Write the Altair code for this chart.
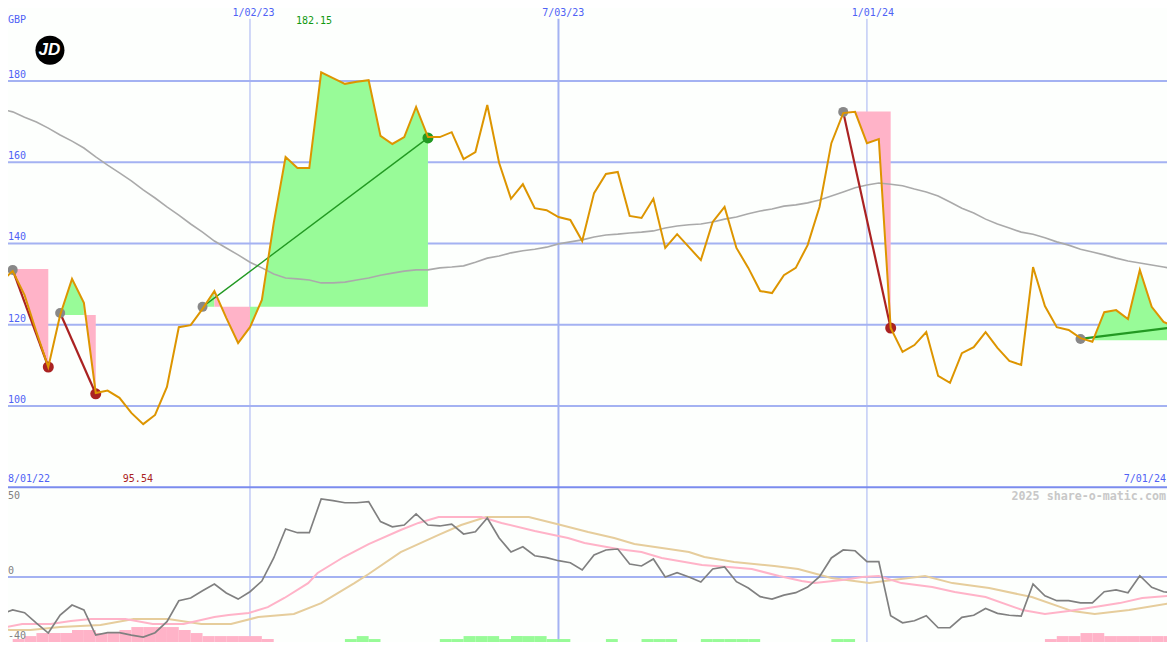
import altair as alt
import pandas as pd

# Weekly closes, week 0 = 8 Aug 2022
price = [130.5,133.2,127.3,118.2,109.6,122.4,131.3,125.4,103.2,103.8,102.0,98.3,95.54,97.8,104.7,119.4,119.9,123.9,128.3,121.7,
         115.5,119.4,126.1,145.0,161.3,158.6,158.6,182.15,180.7,179.3,179.8,180.2,166.5,164.5,166.2,173.6,166.2,166.2,167.4,160.8,
         162.5,174.1,159.8,151.0,154.6,148.7,148.2,146.5,145.8,140.6,152.4,157.1,157.6,146.8,146.3,151.0,138.9,142.3,139.1,135.9,
         145.3,149.0,138.9,134.0,128.3,127.8,132.2,134.0,139.6,149.0,164.7,172.1,172.4,164.7,165.7,119.2,113.3,115.0,118.2,107.4,
         105.7,113.0,114.5,118.2,114.3,111.1,110.1,134.2,124.6,119.4,118.7,116.7,115.8,123.1,123.6,121.4,133.5,124.4,120.7,119.4]
long_avg = [173.1,172.4,171.1,169.9,168.4,166.7,165.2,163.5,161.3,159.3,157.4,155.4,153.2,151.2,149.0,147.0,144.8,142.8,140.6,138.9,
            137.2,135.4,134.0,132.5,131.5,131.3,131.0,130.3,130.3,130.5,131.0,131.5,132.2,132.7,133.2,133.5,133.5,134.0,134.2,134.5,
            135.4,136.4,136.9,137.7,138.2,138.6,139.1,139.9,140.4,140.9,141.6,142.1,142.3,142.6,142.8,143.1,143.8,144.3,144.6,144.8,
            145.3,146.0,146.5,147.3,148.0,148.5,149.2,149.5,150.0,150.7,151.7,152.7,153.7,154.4,154.9,154.6,154.2,153.4,152.7,151.7,
            150.2,148.7,147.5,146.0,144.8,143.8,142.8,142.3,141.4,140.4,139.6,138.6,137.9,137.2,136.4,135.7,135.2,134.7,134.2,133.7]
momentum = [-23.1,-20.6,-22.3,-28.8,-35.0,-23.8,-17.5,-20.6,-36.3,-34.8,-34.8,-36.3,-37.5,-34.8,-27.9,-14.8,-13.1,-8.6,-4.4,-10.0,
            -13.8,-9.2,-2.5,11.9,30.0,27.7,27.7,48.8,47.7,46.4,46.4,47.1,34.6,31.4,32.5,39.4,32.5,31.9,33.1,26.9,
            28.3,36.9,24.4,15.6,18.9,13.3,12.1,10.2,8.9,4.4,13.8,16.9,17.5,8.1,6.9,11.3,0.0,2.7,0.0,-3.1,
            5.0,6.3,-2.9,-6.9,-12.3,-13.8,-11.3,-9.8,-6.3,0.2,11.9,16.9,16.4,9.6,9.6,-24.2,-28.6,-27.3,-24.2,-31.7,
            -31.7,-25.2,-23.9,-19.6,-22.7,-23.9,-24.4,-4.4,-11.7,-14.8,-14.8,-16.1,-16.1,-9.2,-8.1,-9.8,0.8,-6.4,-9.2,-9.8]

signal_weeks = [0,1.8,4.2,5.9,7.6,10.5,12.8,15.4,18,19.2,20.9,22.5,23.9,25.9,26.7,28.9,31,33.7,35.2,36.9,40.5,42.2,45,47.8,49.2,52,54,55.7,
                59.1,61.3,63.3,65.6,67.5,68.6,70.9,72.6,74,75.9,78.5,80.4,83,86.1,88,90,92.2,94.3,96.2,99.2]
signal = [-31.9,-29.4,-29.4,-27.5,-26.3,-26.3,-29.4,-29.4,-25,-23.8,-22.5,-18.8,-13.1,-3.8,2.5,12.5,20.6,29.4,33.8,37.5,37.5,33.8,28.8,24.4,21.3,17.5,15.6,11.9,
          7.5,6.3,5,0.6,-2.5,-3.8,-1.9,0,0.6,-3.8,-6.3,-9.4,-12.5,-20.6,-23.1,-21.3,-18.8,-16.3,-13.1,-11.3]
slow_weeks = [0,0.8,2.5,5,8.4,11.2,14.1,16.9,19.4,21.7,24.7,27,29.8,31,33.7,36.9,38.8,40.9,44.5,47.2,49.5,51.7,53.4,56.3,58,59.3,61.8,65.2,67.2,70,
              73.2,74.5,77.9,80.2,83.3,86.9,90.3,92.2,95.1,99.2]
slow = [-32.5,-33.1,-33.1,-31.3,-30,-26.3,-26.3,-29.4,-29.4,-25,-23.1,-16.3,-3.8,1.9,15.6,26.3,32.5,37.5,37.5,32.5,28.1,24.4,20.6,17.5,15.6,12.5,9.4,6.9,5,-0.6,
        -3.8,-2.5,0.6,-3.8,-6.9,-12.5,-21.3,-23.1,-20.6,-15.6]

pink_bar_weeks = [1,2,3,4,5,6,7,8,9,10,11,12,13,14,15,16,17,18,19,20,21,22,88,89,90,91,92,93,94,95,96,97,98,99]
pink_bar_tops = [-38.75,-36.9,-35,-35,-35,-33.1,-33.1,-35,-35,-33.1,-31.25,-31.25,-31.25,-31.25,-33.1,-35,-36.9,-36.9,-36.9,-36.9,-36.9,-38.75,
                 -38.75,-36.9,-36.9,-35,-35,-36.9,-36.9,-36.9,-36.9,-36.9,-36.9,-36.9]
green_bar_weeks = [29,30,31,37,38,39,40,41,42,43,44,45,46,47,51,54,55,56,59,60,61,62,63,70,71]
green_bar_tops = [-38.75,-36.9,-38.75,-38.75,-38.75,-36.9,-36.9,-36.9,-38.75,-36.9,-36.9,-36.9,-38.75,-38.75,-38.75,-38.75,-38.75,-38.75,
                  -38.75,-38.75,-38.75,-38.75,-38.75,-38.75,-38.75]

trade_start = [1,5,17,71,91]
trade_end = [4,8,36,75,99]
trade_base = [133.7,122.4,124.4,172.5,116.2]
trade_entry = [133.5,122.9,124.4,172.4,116.5]
trade_exit = [109.6,103.0,166.0,119.2,119.4]
trade_colour = ["#aa2222","#aa2222","#229922","#aa2222","#229922"]
trade_width = [2.2,2.2,1.4,2.2,2.2]
trade_closed = [True,True,True,True,False]

price_grid = [100,120,140,160,180]
date_weeks = [21,47,73]
date_widths = [1,2,1]
date_text = ["1/02/23","7/03/23","1/01/24"]
date_text_weeks = [21.3,47.4,73.5]

X_DOMAIN = [0.604, 98.29]
UP_DOMAIN = [80.06, 197.97]
LOW_DOMAIN = [-40.6, 56.25]
BLUE = "#4f62f5"
GRID = "#a4b2f2"
MONO = "DejaVu Sans Mono"
PINK = "#ffb3c8"
GREEN = "#98fb98"
W, H1, H = 1159, 479, 634

xq = alt.X("w:Q", scale=alt.Scale(domain=X_DOMAIN, nice=False, zero=False), axis=None)
yu = alt.Y("v:Q", scale=alt.Scale(domain=UP_DOMAIN, range=[H1, 0], nice=False, zero=False), axis=None)
yl = alt.Y("v:Q", scale=alt.Scale(domain=LOW_DOMAIN, range=[H, H1], nice=False, zero=False), axis=None)
colour = alt.Color("c:N", scale=None)

def series(ws, vs):
    return pd.DataFrame({"w": ws, "v": vs})

def text_layer(rows, y, align, **kw):
    opts = dict(font=MONO, fontSize=10, align=align, baseline="middle")
    opts.update(kw)
    frame = pd.DataFrame(rows, columns=["w", "v", "t", "c"])
    return alt.Chart(frame).mark_text(**opts).encode(x=xq, y=y, text="t:N", color=colour)

weeks = list(range(len(price)))

# ---------- upper panel ----------
grid_u = alt.Chart(series([0]*5, price_grid)).mark_rule(color=GRID, strokeWidth=2).encode(y=yu)
date_rules_u = alt.Chart(pd.DataFrame({"w": date_weeks, "s": date_widths, "v": [195.3]*3, "v0": [UP_DOMAIN[0]]*3})).mark_rule(color=GRID).encode(
    x=xq, y=yu, y2="v0:Q", strokeWidth=alt.StrokeWidth("s:Q", scale=None))

rows = []
group = 0
for k in range(len(trade_start)):
    previous = None
    for w in range(trade_start[k], trade_end[k]):
        col = GREEN if price[w + 1] >= trade_base[k] else PINK
        if col != previous:
            group += 1
            rows.append({"w": w, "v": price[w], "v0": trade_base[k], "seg": f"s{group}", "c": col})
        rows.append({"w": w + 1, "v": price[w + 1], "v0": trade_base[k], "seg": f"s{group}", "c": col})
        previous = col
shade = alt.Chart(pd.DataFrame(rows)).mark_area(clip=True, opacity=1).encode(
    x=xq, y=yu, y2="v0:Q", color=colour, detail="seg:N")

ma_line = alt.Chart(series(weeks, long_avg)).mark_line(color="#aaaaaa", strokeWidth=1.6, clip=True).encode(x=xq, y=yu)

seg_rows = []
for k in range(len(trade_start)):
    seg_rows.append({"w": trade_start[k], "v": trade_entry[k], "k": k, "c": trade_colour[k], "s": trade_width[k]})
    seg_rows.append({"w": trade_end[k], "v": trade_exit[k], "k": k, "c": trade_colour[k], "s": trade_width[k]})
trade_lines = alt.Chart(pd.DataFrame(seg_rows)).mark_line(clip=True).encode(
    x=xq, y=yu, color=colour, detail="k:N", strokeWidth=alt.StrokeWidth("s:Q", scale=None))

entry = alt.Chart(series(trade_start, trade_entry)).mark_point(filled=True, opacity=1, color="#888888", size=100).encode(x=xq, y=yu)
exits = pd.DataFrame({"w": trade_end, "v": trade_exit, "c": trade_colour, "o": trade_closed})
exits = exits[exits["o"]]
exit_dots = alt.Chart(exits).mark_point(filled=True, opacity=1, size=121).encode(x=xq, y=yu, color=colour)

price_line = alt.Chart(series(weeks, price)).mark_line(color="#dd9500", strokeWidth=2, clip=True).encode(x=xq, y=yu)

logo = alt.Chart(series([4.14], [187.6])).mark_point(filled=True, opacity=1, color="#000000", size=841).encode(x=xq, y=yu)
logo_text = text_layer([[4.1, 187.6, "JD", "#ffffff"]], yu, "center", font="Liberation Sans", fontSize=17,
                       fontWeight="bold", fontStyle="italic")

upper = [
    grid_u, date_rules_u, shade, ma_line, trade_lines, entry, exit_dots, price_line, logo, logo_text,
    text_layer([[0.604, v, str(v), BLUE] for v in price_grid], yu, "left", dy=-6),
    text_layer([[0.604, 195.0, "GBP", BLUE]], yu, "left"),
    text_layer([[w, 196.74, t, BLUE] for w, t in zip(date_text_weeks, date_text)], yu, "center"),
    text_layer([[26.4, 194.8, "182.15", "#119911"], [11.55, 82.03, "95.54", "#aa2222"]], yu, "center"),
    text_layer([[0.604, 82.03, "8/01/22", BLUE]], yu, "left"),
    text_layer([[98.2, 82.03, "7/01/24", BLUE]], yu, "right"),
]

# ---------- lower panel ----------
grid_l = alt.Chart(series([0], [0])).mark_rule(color=GRID, strokeWidth=2).encode(y=yl)
top_l = alt.Chart(series([0], [56.1])).mark_rule(color="#7b8cee", strokeWidth=2).encode(y=yl)
date_rules_l = alt.Chart(pd.DataFrame({"w": date_weeks, "s": date_widths, "v": [LOW_DOMAIN[1]]*3, "v0": [LOW_DOMAIN[0]]*3})).mark_rule(color=GRID).encode(
    x=xq, y=yl, y2="v0:Q", strokeWidth=alt.StrokeWidth("s:Q", scale=None))

def bars(ws, tops, col):
    d = pd.DataFrame({"w": ws, "v": tops})
    d["w2"] = d["w"] + 1
    d["v0"] = LOW_DOMAIN[0]
    return alt.Chart(d).mark_rect(color=col, clip=True).encode(x=xq, x2="w2:Q", y=yl, y2="v0:Q")

lower = [
    grid_l, date_rules_l,
    bars(pink_bar_weeks, pink_bar_tops, PINK),
    bars(green_bar_weeks, green_bar_tops, GREEN),
    alt.Chart(series(slow_weeks, slow)).mark_line(color="#e6cd9c", strokeWidth=2, clip=True).encode(x=xq, y=yl),
    alt.Chart(series(signal_weeks, signal)).mark_line(color=PINK, strokeWidth=2, clip=True).encode(x=xq, y=yl),
    alt.Chart(series(weeks, momentum)).mark_line(color="#808080", strokeWidth=1.7, clip=True).encode(x=xq, y=yl),
    top_l,
    text_layer([[0.604, 50.6, "50", "#808080"], [0.604, -37.0, "-40", "#808080"]], yl, "left"),
    text_layer([[0.604, 0, "0", "#808080"]], yl, "left", dy=-6),
    text_layer([[98.2, 50.6, "2025 share-o-matic.com", "#c8c8c8"]], yl, "right", fontSize=11.67, fontWeight="bold"),
]

chart = alt.layer(*upper, *lower).resolve_scale(y="independent").properties(
    width=W, height=H, padding=0, background="#fdfffd",
    autosize=alt.AutoSizeParams(type="none"),
).configure_view(stroke=None)
chart.save("out.html", embed_options={"renderer": "svg", "actions": False})
